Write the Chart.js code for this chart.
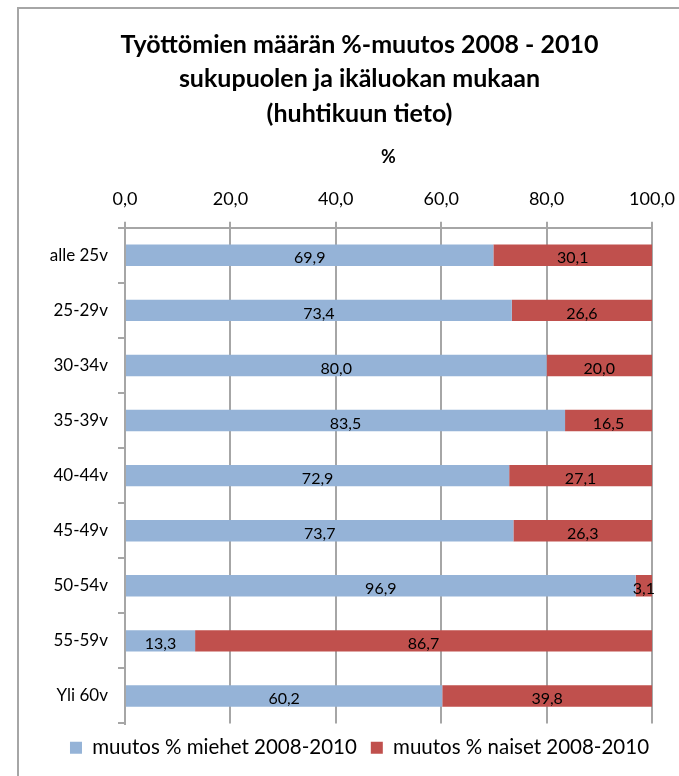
<!DOCTYPE html>
<html>
<head>
<meta charset="utf-8">
<script src="https://cdn.jsdelivr.net/npm/chart.js@4/dist/chart.umd.min.js"></script>
<style>
  body { margin: 0; background: #fff; }
  #wrap { position: relative; width: 679px; height: 776px; overflow: hidden; }
  #frame { position: absolute; left: 17px; top: 7px; right: -5px; bottom: -5px;
           border-top: 2px solid #a6a6a6; border-left: 2px solid #a6a6a6; }
  canvas { position: absolute; left: 0; top: 0; }
</style>
</head>
<body>
<div id="wrap">
  <div id="frame"></div>
  <canvas id="myChart" width="679" height="776"></canvas>
</div>
<script>
let ikaluokat = ['alle 25v', '25-29v', '30-34v', '35-39v', '40-44v', '45-49v', '50-54v', '55-59v', 'Yli 60v'];
let miehet = [69.9, 73.4, 80.0, 83.5, 72.9, 73.7, 96.9, 13.3, 60.2];
let naiset = [30.1, 26.6, 20.0, 16.5, 27.1, 26.3, 3.1, 86.7, 39.8];
let otsikko = ['Työttömien määrän %-muutos 2008 - 2010', 'sukupuolen ja ikäluokan mukaan', '(huhtikuun tieto)'];

const fontti = 'Lato, "Open Sans", sans-serif';

// arvot pylväiden keskelle
const arvoTekstit = {
    id: 'arvoTekstit',
    afterDatasetsDraw(chart) {
        const c = chart.ctx;
        c.save();
        c.font = '16px ' + fontti;
        c.fillStyle = '#000';
        c.textAlign = 'center';
        c.textBaseline = 'middle';
        chart.data.datasets.forEach((ds, i) => {
            chart.getDatasetMeta(i).data.forEach((bar, j) => {
                const p = bar.getCenterPoint();
                c.fillText(ds.data[j].toFixed(1).replace('.', ','), p.x, p.y + 3);
            });
        });
        c.restore();
    }
};

let ctx = document.getElementById('myChart');
new Chart(ctx, {
    type: 'bar',
    data: {
        labels: ikaluokat,
        datasets: [
            { label: 'muutos % miehet 2008-2010', data: miehet, backgroundColor: '#95b3d7' },
            { label: 'muutos % naiset 2008-2010', data: naiset, backgroundColor: '#c0504d' }
        ]
    },
    options: {
        indexAxis: 'y',
        responsive: false,
        animation: false,
        barPercentage: 0.39,
        categoryPercentage: 1,
        layout: { padding: { left: 40, right: 0, top: 0, bottom: 8 } },
        scales: {
            x: {
                position: 'top',
                stacked: true,
                min: 0, max: 100,
                afterFit(s) { s.height = 97; s.paddingLeft = 0; s.paddingRight = 0; },
                ticks: {
                    stepSize: 20,
                    padding: 12,
                    color: '#000',
                    font: { family: fontti, size: 18 },
                    callback: v => v.toFixed(1).replace('.', ',')
                },
                grid: { color: '#a6a6a6', lineWidth: 2, tickLength: 6 },
                border: { color: '#a6a6a6', width: 2 },
                title: {
                    display: true, text: '%', color: '#000',
                    font: { family: fontti, size: 18, weight: 'bold' },
                    padding: { top: 16, bottom: 0 }
                }
            },
            y: {
                stacked: true,
                afterFit(s) { s.width = 85; },
                ticks: { color: '#000', padding: 10, font: { family: fontti, size: 17 } },
                grid: { drawOnChartArea: false, color: '#a6a6a6', lineWidth: 2, tickLength: 7 },
                border: { color: '#a6a6a6', width: 2 }
            },
            // tyhjä tila oikealle
            oikea: {
                axis: 'y',
                type: 'linear',
                position: 'right',
                afterFit(s) { s.width = 27; s.paddingTop = 0; s.paddingBottom = 0; },
                ticks: { display: false },
                grid: { display: false },
                border: { display: false }
            }
        },
        plugins: {
            title: {
                display: true,
                text: otsikko,
                color: '#000',
                font: { family: fontti, size: 25, weight: 'bold', lineHeight: 1.37 },
                padding: { top: 28, bottom: 0 }
            },
            legend: {
                position: 'bottom',
                labels: {
                    color: '#000',
                    boxWidth: 12, boxHeight: 12,
                    padding: 14,
                    font: { family: fontti, size: 20.5 }
                }
            },
            tooltip: { enabled: false }
        }
    },
    plugins: [arvoTekstit]
});
</script>
</body>
</html>
